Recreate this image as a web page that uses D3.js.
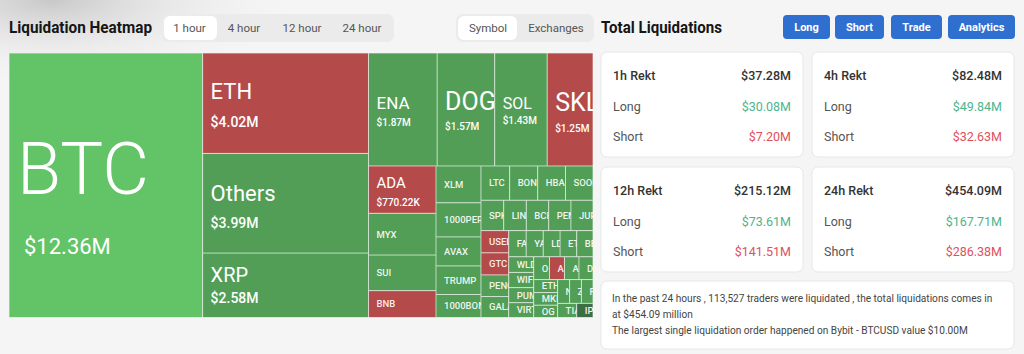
<!DOCTYPE html>
<html><head><meta charset="utf-8">
<script src="https://cdn.jsdelivr.net/npm/d3@7"></script>
<style>html,body{margin:0;padding:0;background:#f5f5f5;}svg{display:block}</style>
</head><body><svg id="c" width="1024" height="354"></svg>
<script>
// ---------- DATA ----------
const categories = ['BTC','ETH','Others','XRP','ENA','DOGE','SOL','SKL','ADA','MYX','SUI','BNB','XLM','1000PEPE','AVAX','TRUMP','1000BONK','LTC','BONK','HBAR','SOON','SPK','LINK','BCH','PENDLE','JUP','USELESS','GTC','PENGU','GALA','FARTCOIN','YALA','LDO','ETC','BERA','WLD','WIF','PUMP','VIRTUAL','ONDO','AAVE','ARB','DOT','ETHFI','MKR','OG','NEAR','ZRO','FIL','TIA','IP'];
const values = [12.36,4.02,3.99,2.58,1.87,1.57,1.43,1.25,0.77022,0.68,0.58,0.437,0.40,0.37,0.315,0.31,0.25,0.237,0.232,0.2297,0.2273,0.1668,0.1656,0.1644,0.1632,0.1620,0.1489,0.1475,0.1451,0.1402,0.1100,0.1076,0.1064,0.1052,0.1028,0.0943,0.0919,0.0907,0.0895,0.0870,0.0822,0.0798,0.0774,0.0750,0.0725,0.0713,0.0689,0.0677,0.0665,0.0653,0.0556];
const sides = ['L+','S','L','L','L','L','L','S','S','L','L','S','L','L','L','L','L','L','L','L','L','L','L','L','L','L','S','S','L','L','L','L','L','L','L','L','L','L','L','L','S','L','L','L','L','L','L','L','L','L','L-'];

const timeTabs = ['1 hour','4 hour','12 hour','24 hour'];
const viewTabs = ['Symbol','Exchanges'];
const actionButtons = ['Long','Short','Trade','Analytics'];

const periods = ['1h','4h','12h','24h'];
const rektTotal = [37.28,82.48,215.12,454.09];
const rektLong = [30.08,49.84,73.61,167.71];
const rektShort = [7.20,32.63,141.51,286.38];

const summaryLines = [
  'In the past 24 hours , 113,527 traders were liquidated , the total liquidations comes in',
  'at $454.09 million',
  'The largest single liquidation order happened on Bybit - BTCUSD value $10.00M'
];

// ---------- STYLE ----------
const FONT = 'Roboto, "Noto Sans", sans-serif';
const sideColor = {'L+':'#62c466','L':'#529e57','L-':'#3d6d45','S':'#b54a4b'};
const labelStyle = {
  BTC:{ns:72,vs:22,gap:44,dy:13,nx:8,vx:15,nw:300,vw:400},
  ETH:{ns:22,vs:14,gap:18,dy:2},
  Others:{ns:22,vs:14,gap:17,dy:3},
  XRP:{ns:20,vs:14,gap:11,dy:0},
  ENA:{ns:17,vs:10,gap:10,dy:2},
  DOGE:{ns:25,vs:10,gap:13,dy:2},
  SOL:{ns:16,vs:10,gap:8,dy:1},
  SKL:{ns:25,vs:10,gap:14,dy:3},
  ADA:{ns:15,vs:10,gap:10,dy:2}
};
const CAP = 0.711;
const fmtVal = v => v >= 1 ? `$${v.toFixed(2)}M` : `$${(v*1000).toFixed(2)}K`;

const svg = d3.select('#c');
const defs = svg.append('defs');
const rg = defs.append('radialGradient').attr('id','shade').attr('cx',0.05).attr('cy',0).attr('r',0.25);
rg.append('stop').attr('offset',0).attr('stop-color','#c8c8c8');
rg.append('stop').attr('offset',1).attr('stop-color','#f5f5f5').attr('stop-opacity',0);
svg.append('rect').attr('width',1024).attr('height',354).attr('fill','#f5f5f5');
svg.append('rect').attr('width',1024).attr('height',354).attr('fill','url(#shade)');

// ---------- HEADER LEFT ----------
svg.append('text').attr('x',9).attr('y',33).text('Liquidation Heatmap')
  .attr('font-family',FONT).attr('font-weight',700).attr('font-size',17).attr('fill','#161616')
  .attr('textLength',143).attr('lengthAdjust','spacingAndGlyphs');

function tabGroup(labels, x0, x1, centers, pill){
  const g = svg.append('g');
  g.append('rect').attr('x',x0).attr('y',14).attr('width',x1-x0).attr('height',28).attr('rx',7).attr('fill','#ebebeb');
  g.append('rect').attr('x',pill[0]).attr('y',16).attr('width',pill[1]).attr('height',24).attr('rx',6).attr('fill','#fff');
  g.selectAll('text').data(labels).join('text')
    .attr('x',(d,i)=>centers[i]).attr('y',32).attr('text-anchor','middle')
    .attr('font-family',FONT).attr('font-size',11.5).attr('fill','#555').text(d=>d);
}
tabGroup(timeTabs,162,394,[189.5,244,302,362],[164,53]);
tabGroup(viewTabs,456,594,[488,556],[458,59]);

// ---------- HEATMAP ----------
const hx = 9, hy = 53, hw = 584, hh = 264.5;
const root = d3.hierarchy({children: categories.map((c,i)=>({name:c, value:values[i], side:sides[i]}))})
  .sum(d=>d.value || 0).sort((a,b)=>b.value-a.value);
d3.treemap().tile(d3.treemapSquarify).size([hw,hh]).round(false)(root);

const hm = svg.append('g').attr('transform',`translate(${hx},${hy})`);
const leaves = root.leaves();
leaves.forEach((d,i)=>{
  defs.append('clipPath').attr('id','cl'+i).append('rect')
    .attr('x',d.x0).attr('y',d.y0).attr('width',d.x1-d.x0).attr('height',d.y1-d.y0);
});
const cell = hm.selectAll('g.cell').data(leaves).join('g').attr('class','cell')
  .attr('clip-path',(d,i)=>`url(#cl${i})`);
cell.append('rect')
  .attr('x',d=>d.x0).attr('y',d=>d.y0)
  .attr('width',d=>d.x1-d.x0).attr('height',d=>d.y1-d.y0)
  .attr('fill',d=>sideColor[d.data.side])
  .attr('stroke','rgba(255,255,255,0.6)').attr('stroke-width',1);

// shorten a label to the characters that (almost) fit inside its cell; the clip hides the small overhang
function fit(t, d){
  if (d.x1 >= hw - 0.5) return;
  const avail = d.x1 - (+t.attr('x')) + 5;
  let s = t.text();
  while (s.length > 1 && t.node().getComputedTextLength() > avail) { s = s.slice(0,-1); t.text(s); }
}

cell.each(function(d){
  const g = d3.select(this);
  const st = labelStyle[d.data.name];
  const cy = (d.y0+d.y1)/2;
  if(st){
    const nCap = st.ns*CAP, vCap = st.vs*CAP;
    const blockH = nCap + st.gap + vCap;
    const top = cy - blockH/2 + st.dy;
    const t1 = g.append('text').attr('x',d.x0+(st.nx||8)).attr('y',top+nCap)
      .attr('font-family',FONT).attr('font-size',st.ns).attr('fill','#fff')
      .attr('font-weight',st.nw||400).text(d.data.name);
    fit(t1,d);
    const t2 = g.append('text').attr('x',d.x0+(st.vx||8)).attr('y',top+nCap+st.gap+vCap)
      .attr('font-family',FONT).attr('font-size',st.vs).attr('fill','#fff')
      .attr('font-weight',st.vw||500).text(fmtVal(d.data.value));
    fit(t2,d);
  } else {
    const t = g.append('text').attr('x',d.x0+8).attr('y',cy+9.5*CAP/2)
      .attr('font-family',FONT).attr('font-size',9.5).attr('fill','rgba(255,255,255,0.92)')
      .attr('font-weight',500).text(d.data.name);
    fit(t,d);
  }
});

// ---------- RIGHT HEADER ----------
svg.append('text').attr('x',601).attr('y',33).text('Total Liquidations')
  .attr('font-family',FONT).attr('font-weight',700).attr('font-size',17).attr('fill','#161616')
  .attr('textLength',121).attr('lengthAdjust','spacingAndGlyphs');
const btnX = [783,835,891,948], btnW = [47,49,51,67];
const bg = svg.append('g');
actionButtons.forEach((b,i)=>{
  bg.append('rect').attr('x',btnX[i]).attr('y',15).attr('width',btnW[i]).attr('height',24).attr('rx',4).attr('fill','#2e6fd0');
  bg.append('text').attr('x',btnX[i]+btnW[i]/2).attr('y',31).attr('text-anchor','middle')
    .attr('font-family',FONT).attr('font-weight',700).attr('font-size',11).attr('fill','#fff').text(b);
});

// ---------- CARDS ----------
const cardPos = [[601,52],[812,52],[601,167],[812,167]];
periods.forEach((p,i)=>{
  const [x,y] = cardPos[i];
  const g = svg.append('g');
  g.append('rect').attr('x',x).attr('y',y).attr('width',202).attr('height',105).attr('rx',6)
    .attr('fill','#fff').attr('stroke','#e7e7e7');
  const rows = [
    [`${p} Rekt`, rektTotal[i], '#333', '#333', 500],
    ['Long', rektLong[i], '#555', '#4db48d', 400],
    ['Short', rektShort[i], '#555', '#e0505c', 400]
  ];
  rows.forEach((r,k)=>{
    const by = y + 28 + k*30.5;
    g.append('text').attr('x',x+12).attr('y',by).attr('font-family',FONT).attr('font-size',12.5)
      .attr('font-weight',r[4]).attr('fill',r[2]).text(r[0]);
    g.append('text').attr('x',x+190).attr('y',by).attr('text-anchor','end').attr('font-family',FONT)
      .attr('font-size',12.5).attr('font-weight',r[4]).attr('fill',r[3]).text(`$${r[1].toFixed(2)}M`);
  });
});

// ---------- SUMMARY ----------
const sg = svg.append('g');
sg.append('rect').attr('x',601).attr('y',281).attr('width',413).attr('height',68).attr('rx',6)
  .attr('fill','#fff').attr('stroke','#e7e7e7');
sg.selectAll('text').data(summaryLines).join('text')
  .attr('x',612).attr('y',(d,i)=>302+i*16).attr('font-family',FONT).attr('font-size',10.15)
  .attr('fill','#444').text(d=>d);
</script></body></html>
